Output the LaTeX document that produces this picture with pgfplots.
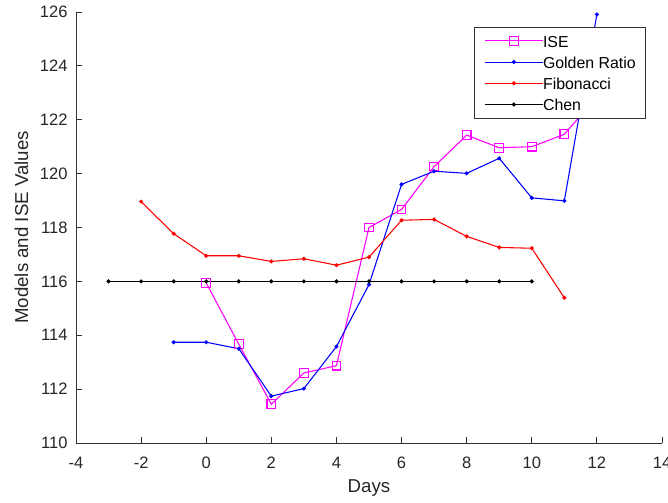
\documentclass[border=0pt]{standalone}
\usepackage{fontspec}
\setmainfont{Liberation Sans}
\usepackage{pgfplots}
\pgfplotsset{compat=1.18}
\usetikzlibrary{calc}
\definecolor{isemag}{RGB}{255,0,255}
\definecolor{grblue}{RGB}{0,0,255}
\definecolor{fibred}{RGB}{255,0,0}

\begin{document}
\begin{tikzpicture}
\begin{axis}[
  scale only axis, width=439.5pt, height=323.25pt,
  xmin=-4, xmax=14, ymin=110, ymax=126,
  xtick={-4,-2,...,14}, ytick={110,112,...,126},
  axis lines=left, axis line style={-, black!80, line width=0.6pt},
  tick align=inside, major tick length=4.3pt,
  tick style={black!80, line width=0.6pt},
  /pgf/number format/assume math mode=true,
  xticklabel style={font=\fontsize{12.4}{14}\selectfont, text=black!85, anchor=north, inner sep=0pt, yshift=-10.3pt},
  yticklabel style={font=\fontsize{12.4}{14}\selectfont, text=black!85, anchor=east, inner sep=0pt, xshift=-6.2pt},
  xlabel={Days}, ylabel={Models and ISE Values},
  every axis x label/.style={at={(rel axis cs:0.5,0)}, anchor=center, yshift=-34pt, font=\fontsize{14}{16}\selectfont, text=black!85},
  every axis y label/.style={at={(rel axis cs:0,0.5)}, xshift=-41pt, rotate=90, anchor=center, font=\fontsize{14}{16}\selectfont, text=black!85},
  legend style={at={(1,1)}, anchor=north east, xshift=-12pt, yshift=-11.25pt,
    draw=black!80, fill=white, line width=0.5pt, font=\fontsize{11.9}{13}\selectfont,
    inner xsep=7.5pt, inner ysep=2.9pt, row sep=1.4pt,
    nodes={inner ysep=1.5pt, inner xsep=0pt, text height=10.5pt, text depth=1pt},
    /tikz/column 2/.style={column sep=3.75pt}},
  legend cell align=left,
  legend image code/.code={\draw[mark repeat=2,mark phase=2,#1] plot coordinates {(0pt,0pt)(21.5pt,0pt)(43pt,0pt)};},
]
\addplot[isemag, line width=0.8pt, mark=square, mark size=3.25pt] coordinates {
  (0,115.94)(1,113.67)(2,111.44)(3,112.60)(4,112.87)(5,118.00)(6,118.67)
  (7,120.26)(8,121.43)(9,120.96)(10,121.00)(11,121.46)(12,122.85)
};
\addplot[grblue, line width=0.8pt, mark=*, mark size=1.1pt] coordinates {
  (-1,113.74)(0,113.74)(1,113.50)(2,111.74)(3,112.02)(4,113.58)(5,115.88)
  (6,119.60)(7,120.09)(8,120.01)(9,120.57)(10,119.10)(11,118.99)(12,125.91)
};
\addplot[fibred, line width=0.8pt, mark=*, mark size=1.1pt] coordinates {
  (-2,118.96)(-1,117.77)(0,116.95)(1,116.95)(2,116.74)(3,116.84)(4,116.60)
  (5,116.90)(6,118.27)(7,118.30)(8,117.67)(9,117.26)(10,117.23)(11,115.39)
};
\addplot[black, line width=0.8pt, mark=*, mark size=1.1pt] coordinates {
  (-3,116)(-2,116)(-1,116)(0,116)(1,116)(2,116)(3,116)
  (4,116)(5,116)(6,116)(7,116)(8,116)(9,116)(10,116)
};
\legend{ISE, Golden Ratio, Fibonacci, Chen}
\coordinate (A) at (rel axis cs:0,0);
\coordinate (B) at (rel axis cs:1,1);
\end{axis}
\pgfresetboundingbox
\path[use as bounding box] ($(A)+(-57pt,-45pt)$) rectangle ($(B)+(4.5pt,9pt)$);
\end{tikzpicture}
\end{document}
